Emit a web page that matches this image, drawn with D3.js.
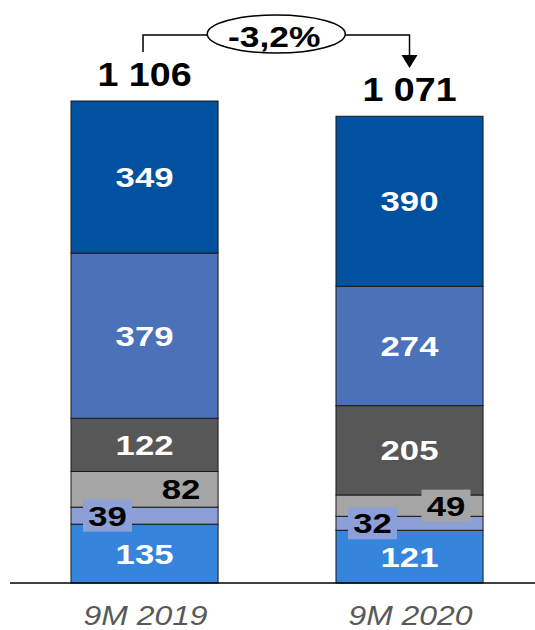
<!DOCTYPE html>
<html>
<head>
<meta charset="utf-8">
<script src="https://cdn.jsdelivr.net/npm/d3@7"></script>
<style>
  body { margin: 0; background: #fff; }
  text { font-family: "Liberation Sans", Arial, sans-serif; }
</style>
</head>
<body>
<script>
// chart data
var categories = ["9M 2019", "9M 2020"];
var seriesKeys = ["s1", "s2", "s3", "s4", "s5", "s6"];   // bottom -> top
var s1 = [135, 121];
var s2 = [39, 32];
var s3 = [82, 49];
var s4 = [122, 205];
var s5 = [379, 274];
var s6 = [349, 390];
var totalLabels = ["1 106", "1 071"];
var changeLabel = "-3,2%";

var colors = {
    s1: "#3585dc",
    s2: "#8c9fd6",
    s3: "#a5a5a5",
    s4: "#575757",
    s5: "#4b71b9",
    s6: "#00519f"
};

var width = 535, height = 630;

var svg = d3.select("body").append("svg")
    .attr("width", width)
    .attr("height", height);

// text in the original is a bit wider than Arial, so stretch it horizontally
function wideText(g, tx, ty, sx, str) {
    return g.append("text")
        .attr("transform", "translate(" + tx + "," + ty + ") scale(" + sx + ",1)")
        .attr("text-anchor", "middle")
        .text(str);
}

// build table for the stack
var table = categories.map(function(c, i) {
    return { cat: c, s1: s1[i], s2: s2[i], s3: s3[i], s4: s4[i], s5: s5[i], s6: s6[i] };
});
var stacked = d3.stack().keys(seriesKeys)(table);
var totals = table.map(function(d) {
    return d3.sum(seriesKeys, function(k) { return d[k]; });
});

var x = d3.scaleBand()
    .domain(categories)
    .range([4.75, 549.3])
    .paddingInner(0.445)
    .paddingOuter(0.25);

var y = d3.scaleLinear()
    .domain([0, d3.max(totals)])
    .range([583, 101]);

// bars
var layer = svg.append("g").selectAll("g")
    .data(stacked)
    .enter().append("g")
    .attr("fill", function(d) { return colors[d.key]; });

layer.selectAll("rect")
    .data(function(d) { return d; })
    .enter().append("rect")
    .attr("x", function(d) { return x(d.data.cat); })
    .attr("width", x.bandwidth())
    .attr("y", function(d) { return y(d[1]); })
    .attr("height", function(d) { return y(d[0]) - y(d[1]); })
    .attr("stroke", "#1a1a1a")
    .attr("stroke-width", 1);

// axis line
svg.append("line")
    .attr("x1", 10).attr("x2", width)
    .attr("y1", y(0)).attr("y2", y(0))
    .attr("stroke", "#000")
    .attr("stroke-width", 1.5);

// segment labels
var labels = svg.append("g")
    .attr("font-size", 28)
    .attr("font-weight", "bold");
stacked.forEach(function(series) {
    series.forEach(function(d) {
        var v = d[1] - d[0];
        var left = x(d.data.cat);
        var cy = (y(d[0]) + y(d[1])) / 2;
        var cx = left + x.bandwidth() / 2;
        var fill = "#fff";
        var box = null;
        if (series.key === "s2") {
            cx = left + 36.5; fill = "#000"; box = colors.s2;
        } else if (series.key === "s3") {
            cx = left + 110; fill = "#000";
            if (v < 60) box = colors.s3;
        }
        if (box) {
            labels.append("rect")
                .attr("x", cx - 24.5).attr("y", cy - 16)
                .attr("width", 49).attr("height", 32)
                .attr("fill", box);
        }
        wideText(labels, cx, cy + 10, 1.24, v).attr("fill", fill);
    });
});

// totals
var totG = svg.append("g")
    .attr("font-size", 33)
    .attr("font-weight", "bold")
    .attr("fill", "#000");
categories.forEach(function(c, i) {
    wideText(totG, x(c) + x.bandwidth() / 2, y(totals[i]) - 15, 1.14, totalLabels[i]);
});

// category labels
var catG = svg.append("g")
    .attr("font-size", 28)
    .attr("font-style", "italic")
    .attr("fill", "#595959");
categories.forEach(function(c) {
    wideText(catG, x(c) + x.bandwidth() / 2 + 1, 625, 1.14, c);
});

// change annotation
var xa = x(categories[0]) + x.bandwidth() / 2 - 1.5;
var xb = x(categories[1]) + x.bandwidth() / 2;
var lineY = 35;
svg.append("path")
    .attr("d", "M" + xa + "," + 52 + "V" + lineY + "H" + xb + "V" + 56)
    .attr("fill", "none")
    .attr("stroke", "#000")
    .attr("stroke-width", 1.5);
svg.append("path")
    .attr("d", "M" + (xb - 8) + ",55L" + (xb + 8) + ",55L" + xb + ",68Z")
    .attr("fill", "#000");
var ex = (xa + xb) / 2;
svg.append("ellipse")
    .attr("cx", ex).attr("cy", 34)
    .attr("rx", 69).attr("ry", 19)
    .attr("fill", "#fff")
    .attr("stroke", "#000")
    .attr("stroke-width", 1.5);
var chG = svg.append("g")
    .attr("font-size", 30)
    .attr("font-weight", "bold");
wideText(chG, ex - 2, 47, 1.18, changeLabel);
</script>
</body>
</html>
